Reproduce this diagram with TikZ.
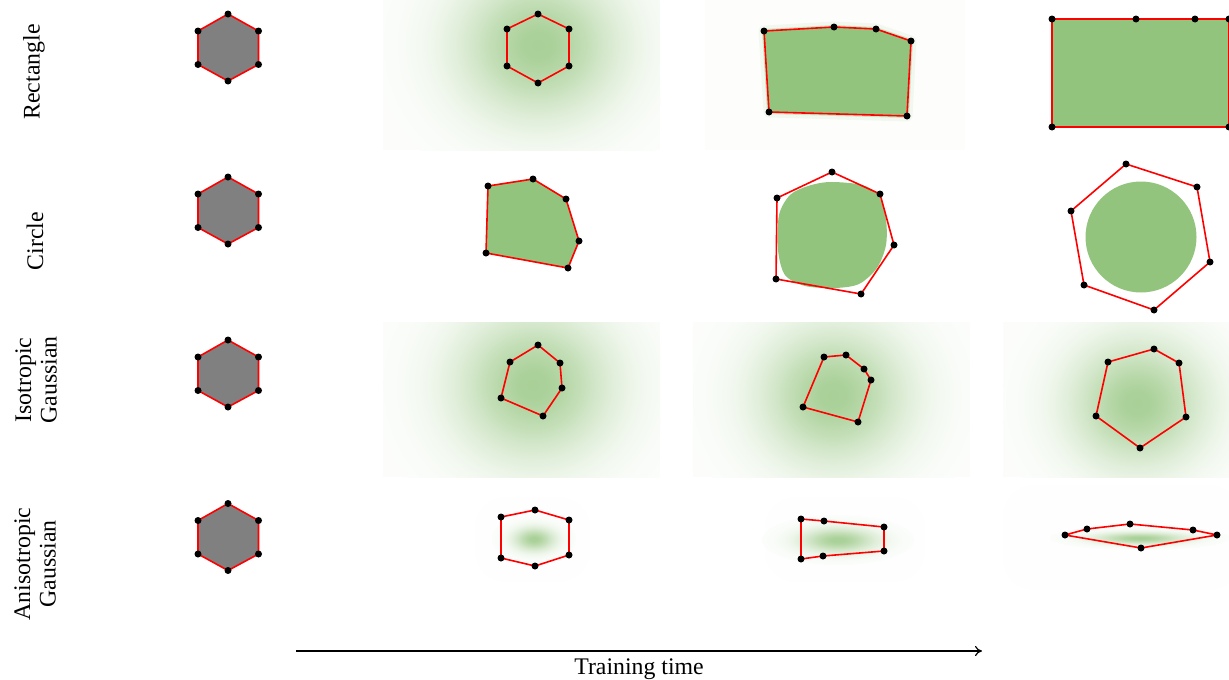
\documentclass[tikz,border=0pt]{standalone}
\usepackage{fontspec}
\setmainfont{Liberation Serif}
\usetikzlibrary{arrows.meta}
\definecolor{gg}{RGB}{147,196,125}
\colorlet{gsa}{gg!80!white}
\colorlet{gsb}{gg!77!white}
\colorlet{gsc}{gg!67!white}
\colorlet{gsd}{gg!54!white}
\colorlet{gse}{gg!40!white}
\colorlet{gsf}{gg!28!white}
\colorlet{gsg}{gg!18!white}
\colorlet{gsh}{gg!11!white}
\colorlet{gsi}{gg!7!white}
\colorlet{gsj}{gg!3!white}
\pgfdeclareradialshading{gauss}{\pgfpoint{0bp}{0bp}}{color(0bp)=(gsa); color(2.5bp)=(gsb); color(5bp)=(gsc); color(7.5bp)=(gsd); color(10bp)=(gse); color(12.5bp)=(gsf); color(15bp)=(gsg); color(17.5bp)=(gsh); color(20bp)=(gsi); color(25bp)=(gsj); color(50bp)=(gsj)}
\newcommand\buildpoly[1]{%
  \foreach[count=\i] \x/\y in {#1}{%
    \ifnum\i=1 \xdef\polypath{(\x,\y)}\else\xdef\polypath{\polypath -- (\x,\y)}\fi}}
\newcommand\mypolydraw[2]{\path[#2] #1 -- cycle;}
\newcommand\drawpoly[1]{\expandafter\mypolydraw\expandafter{\polypath}{#1}}
\newcommand\dotpoly[1]{\foreach \x/\y in {#1}{\fill[dotc] (\x,\y) circle (3.5);}}
\newcommand\mypoly[2]{\buildpoly{#2}\drawpoly{#1}\dotpoly{#2}}
\newcommand\hexcell[1]{\mypoly{edge,fill=gray}{228/#1-33.5, 198/#1-16.5, 198/#1+17, 228/#1+33.5, 258.5/#1+17, 258.5/#1-16.5}}
\begin{document}
\begin{tikzpicture}[x=1pt,y=-1pt,
  edge/.style={draw=red, line width=1.6, line join=round},
  dotc/.style={fill=black},
  tint/.style={fill=gg!3!white},
  faint/.style={fill=gg!1.5!white, rounded corners=30},
  lbl/.style={rotate=90, align=center, inner sep=0, font=\fontsize{23.8}{25.5}\selectfont}]
\useasboundingbox (0,0) rectangle (1229,680);
\clip (0,0) rectangle (1229,680);

% row labels
\node[lbl] (lrect) at (34,72) {Rectangle};
\node[lbl] (lcirc) at (35,241) {Circle};
\node[lbl] (liso) at (36,380) {Isotropic\\Gaussian};
\node[lbl] (laniso) at (35,564) {Anisotropic\\Gaussian};

% column 1: initial hexagons
\hexcell{47.5}
\hexcell{210.5}
\hexcell{373.5}
\hexcell{537}

% ---- Row 1: Rectangle
\begin{scope}
  \clip (383,0) rectangle (660,150);
  \fill[tint] (383,0) rectangle (660,150);
  \shade[shading=gauss] (538,45) ellipse [x radius=165, y radius=150];
\end{scope}
\mypoly{edge}{538/14, 569/29, 569/66, 538/83, 507/66, 507/29}

\fill[gg!2!white] (705,0) rectangle (965,150);
\buildpoly{764/31, 834/27, 876/29, 911/41, 907/116, 769/112}
\drawpoly{draw=gg!12!white, line width=11, line join=round}
\drawpoly{draw=gg!45!white, line width=4, line join=round}
\drawpoly{fill=gg}
\mypoly{edge}{764/31, 834/27, 876/29, 911/41, 907/116, 769/112}

\mypoly{edge,fill=gg}{1052/19, 1136/19, 1195/19, 1229/19, 1229/127, 1052/127}

% ---- Row 2: Circle
\mypoly{edge,fill=gg}{488/186, 533/179, 566/199, 579/241, 568/268, 486/253}

\fill[gg] plot[smooth cycle] coordinates {(830,182) (862,185) (879,196) (886,220) (886,245) (877,268) (859,284) (835,288) (805,286) (785,275) (778,250) (779,215) (790,195) (808,186)};
\mypoly{edge}{832/172, 880/194, 894/245, 861/294, 776/279, 777/198}

\fill[gg] (1141,237) circle (55.5);
\mypoly{edge}{1126/164, 1197/187, 1210/262, 1154/310, 1084/285, 1071/211}

% ---- Row 3: Isotropic Gaussian
\begin{scope}
  \clip (383,322) rectangle (660,477);
  \fill[tint] (383,322) rectangle (660,477);
  \shade[shading=gauss] (533,385) ellipse [x radius=160, y radius=150];
\end{scope}
\mypoly{edge}{538/345, 560/363, 562/388, 543/416, 501/398, 510/362}

\begin{scope}
  \clip (693,322) rectangle (970,477);
  \fill[tint] (693,322) rectangle (970,477);
  \shade[shading=gauss] (833,395) ellipse [x radius=150, y radius=140];
\end{scope}
\mypoly{edge}{824/357, 846/355, 864/369, 871/380, 858/422, 803/407}

\begin{scope}
  \clip (1003,322) rectangle (1229,477);
  \fill[tint] (1003,322) rectangle (1229,477);
  \shade[shading=gauss] (1137,403) ellipse [x radius=140, y radius=130];
\end{scope}
\mypoly{edge}{1154/349, 1179/363, 1186/417, 1140/448, 1096/416, 1108/362}

% ---- Row 4: Anisotropic Gaussian
\fill[faint] (475,497) rectangle (590,582);
\shade[shading=gauss] (534,539) ellipse [x radius=42, y radius=24];
\mypoly{edge}{501/517, 535/510, 569/520, 569/555, 535/566, 501/558}

\fill[faint] (765,497) rectangle (925,582);
\shade[shading=gauss] (838,540) ellipse [x radius=76, y radius=25];
\mypoly{edge}{801/519, 824/521, 884/527, 884/551, 823/556, 801/559}

\fill[faint] (1003,485) rectangle (1240,590);
\shade[shading=gauss] (1140,538) ellipse [x radius=90, y radius=12];
\mypoly{edge}{1065/535, 1087/529, 1130/524, 1193/530, 1217/535, 1141/548}

% ---- time axis
\coordinate (tstart) at (296,651);
\coordinate (tend) at (982,651);
\draw[line width=1.2, -{To[length=7,width=10]}] (tstart) -- (tend);
\node[anchor=base, inner sep=0, font=\fontsize{23.8}{25.5}\selectfont] (ttime) at (639,674) {Training time};
\end{tikzpicture}
\end{document}
